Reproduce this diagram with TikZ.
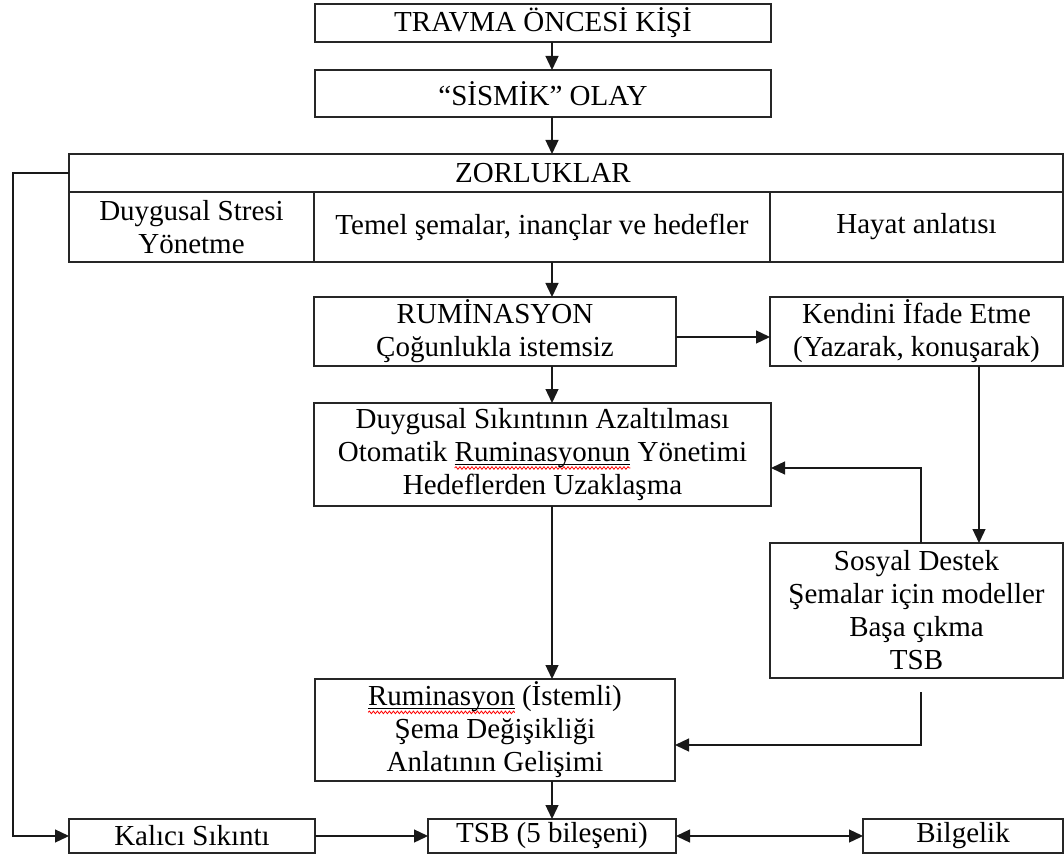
\documentclass[tikz,border=0pt]{standalone}
\usepackage{fontspec}
\setmainfont{Liberation Serif}
\usetikzlibrary{arrows.meta,decorations.pathmorphing}
\newsavebox\splbox
\newlength\splw
\newcommand\spl[1]{\sbox\splbox{#1}\setlength\splw{\wd\splbox}\leavevmode\rlap{\tikz[baseline=0pt]{\useasboundingbox (0pt,0pt) rectangle (0pt,0pt);
 \draw[black,line width=0.9pt] (0pt,-3pt) -- (\splw,-3pt);
 \draw[red,line width=0.8pt,decorate,decoration={snake,amplitude=1.3pt,segment length=4pt}] (0pt,-6.5pt) -- (\splw,-6.5pt);}}\usebox\splbox}
\begin{document}
\begin{tikzpicture}[x=1pt,y=-1pt,
  box/.style={draw=black!85,line width=1.3pt,inner sep=0pt,outer sep=0pt,align=center,font=\fontsize{29}{33}\selectfont},
  lbl/.style={inner sep=0pt,font=\fontsize{29}{33}\selectfont},
  arr/.style={draw=black!90,line width=1.3pt,-{Triangle[length=14pt,width=13pt]}},
  darr/.style={draw=black!90,line width=1.3pt,{Triangle[length=14pt,width=13pt]}-{Triangle[length=14pt,width=13pt]}}]
\useasboundingbox (0,0) rectangle (1064,858);
% boxes
\node[box,minimum width=456pt,minimum height=38pt] (b1) at (543,23) {TRAVMA ÖNCESİ KİŞİ};
\node[box,minimum width=456pt,minimum height=47pt] (b2) at (543,93.5) {“SİSMİK” OLAY};
\node[box,minimum width=994pt,minimum height=38pt] (zh) at (566,173) {};
\node[lbl] (zt) at (543,173) {ZORLUKLAR};
\node[box,minimum width=245pt,minimum height=70pt] (c1) at (191.5,227) {Duygusal Stresi\\Yönetme};
\node[box,minimum width=456pt,minimum height=70pt] (c2) at (542,227) {Temel şemalar, inançlar ve hedefler};
\node[box,minimum width=293pt,minimum height=70pt] (c3) at (916.5,227) {Hayat anlatısı};
\node[box,minimum width=362pt,minimum height=69pt] (rum) at (495,331.5) {RUMİNASYON\\Çoğunlukla istemsiz};
\node[box,minimum width=293pt,minimum height=69pt] (ken) at (916.5,331.5) {Kendini İfade Etme\\(Yazarak, konuşarak)};
\node[box,minimum width=457pt,minimum height=103pt] (duy) at (542.5,454.5) {Duygusal Sıkıntının Azaltılması\\Otomatik \spl{Ruminasyonun} Yönetimi\\Hedeflerden Uzaklaşma};
\node[box,minimum width=293pt,minimum height=135pt] (sos) at (916.5,610.5) {Sosyal Destek\\Şemalar için modeller\\Başa çıkma\\TSB};
\node[box,minimum width=360pt,minimum height=102pt] (ist) at (495,730) {\spl{Ruminasyon} (İstemli)\\Şema Değişikliği\\Anlatının Gelişimi};
\node[box,minimum width=246pt,minimum height=34pt] (kal) at (192,836) {Kalıcı Sıkıntı};
\node[box,minimum width=248pt,minimum height=34pt] (tsb) at (552,836) {TSB (5 bileşeni)};
\node[box,minimum width=200pt,minimum height=34pt] (bil) at (963,836) {Bilgelik};
% helper coordinates
\coordinate (ax) at (552,0);
\coordinate (ry) at (0,337);
\coordinate (kx) at (979,0);
\coordinate (fb1) at (921,468);
\coordinate (fb2top) at (921,692);
\coordinate (fb2) at (921,745);
\coordinate (lx) at (13,0);
% connectors
\draw[arr] (b1.south -| ax) -- (b2.north -| ax);
\draw[arr] (b2.south -| ax) -- (zh.north -| ax);
\draw[arr] (c2.south -| ax) -- (rum.north -| ax);
\draw[arr] (rum.south -| ax) -- (duy.north -| ax);
\draw[arr] (duy.south -| ax) -- (ist.north -| ax);
\draw[arr] (ist.south -| ax) -- (tsb.north -| ax);
\draw[arr] (rum.east |- ry) -- (ken.west |- ry);
\draw[arr] (ken.south -| kx) -- (sos.north -| kx);
\draw[arr] (sos.north -| fb1) -- (fb1) -- (duy.east |- fb1);
\draw[arr] (fb2top) -- (fb2) -- (ist.east |- fb2);
\draw[arr] (zh.west) -- (zh.west -| lx) -- (kal.west -| lx) -- (kal.west);
\draw[arr] (kal.east) -- (tsb.west);
\draw[darr] (tsb.east) -- (bil.west);
\end{tikzpicture}
\end{document}
